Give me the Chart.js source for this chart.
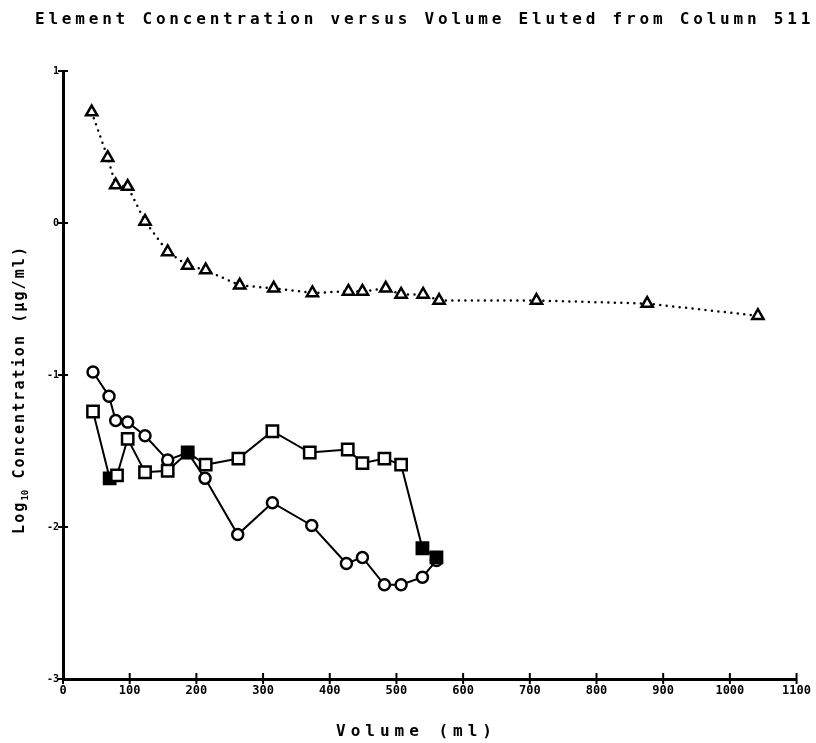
<!DOCTYPE html>
<html lang="en">
<head>
    <meta charset="UTF-8" />
    <title>Element Concentration versus Volume Eluted from Column 511</title>
    <style>
        body {
            margin: 0;
            background: #fff;
        }

        .wrap {
            position: relative;
            width: 816px;
            height: 743px;
            font-family: "DejaVu Sans Mono", monospace;
            color: #000;
        }

        .title {
            position: absolute;
            top: 9px;
            left: 35px;
            font-size: 16px;
            font-weight: bold;
            letter-spacing: 3.8px;
            white-space: nowrap;
        }

        .xtitle {
            position: absolute;
            top: 721px;
            left: 336px;
            font-size: 16px;
            font-weight: bold;
            letter-spacing: 5px;
            white-space: nowrap;
        }

        .ytitle {
            position: absolute;
            left: 10px;
            top: 534px;
            transform-origin: 0 0;
            transform: rotate(-90deg);
            font-size: 15px;
            font-weight: bold;
            letter-spacing: 2.1px;
            white-space: nowrap;
        }

        .ytitle sub {
            font-size: 9px;
            letter-spacing: 0;
        }

        canvas {
            position: absolute;
            left: 0;
            top: 0;
        }
    </style>
    <script src="https://cdn.jsdelivr.net/npm/chart.js"></script>
</head>
<body>
    <div class="wrap">
        <canvas id="elutionChart" width="816" height="743"></canvas>
        <div class="title">Element Concentration versus Volume Eluted from Column 511</div>
        <div class="ytitle">Log<sub>10</sub> Concentration  (µg/ml)</div>
        <div class="xtitle">Volume  (ml)</div>
    </div>

    <script>
        // volume (ml) and log10 concentration for each element
        const triVolume = [43, 67, 79, 97, 123, 157, 187, 214, 265, 316, 374, 428, 449, 484, 507, 540, 564, 710, 876, 1042];
        const triConc = [0.73, 0.43, 0.25, 0.24, 0.01, -0.19, -0.28, -0.31, -0.41, -0.43, -0.46, -0.45, -0.45, -0.43, -0.47, -0.47, -0.51, -0.51, -0.53, -0.61];

        const circVolume = [45, 69, 79, 97, 123, 157, 187, 213, 262, 314, 373, 425, 449, 482, 507, 539, 560];
        const circConc = [-0.98, -1.14, -1.30, -1.31, -1.40, -1.56, -1.51, -1.68, -2.05, -1.84, -1.99, -2.24, -2.20, -2.38, -2.38, -2.33, -2.22];

        const sqVolume = [45, 70, 81, 97, 123, 157, 187, 214, 263, 314, 370, 427, 449, 482, 507, 539, 560];
        const sqConc = [-1.24, -1.68, -1.66, -1.42, -1.64, -1.63, -1.51, -1.59, -1.55, -1.37, -1.51, -1.49, -1.58, -1.55, -1.59, -2.14, -2.20];
        // points printed as solid squares
        const sqFilled = [1, 6, 15, 16];

        const xTicks = { min: 0, max: 1100, step: 100 };
        const yTicks = { min: -3, max: 1, step: 1 };

        const toXY = (xs, ys) => xs.map((x, i) => ({ x: x, y: ys[i] }));

        // ticks that cross the axis line on both sides
        const crossTicks = {
            id: "crossTicks",
            afterDraw(chart) {
                const { ctx, chartArea, scales } = chart;
                ctx.save();
                ctx.strokeStyle = "#000";
                ctx.lineWidth = 2;
                scales.x.ticks.forEach((t) => {
                    const px = scales.x.getPixelForValue(t.value);
                    ctx.beginPath();
                    ctx.moveTo(px, chartArea.bottom - 6);
                    ctx.lineTo(px, chartArea.bottom + 5);
                    ctx.stroke();
                });
                scales.y.ticks.forEach((t) => {
                    const py = scales.y.getPixelForValue(t.value);
                    ctx.beginPath();
                    ctx.moveTo(chartArea.left - 5, py);
                    ctx.lineTo(chartArea.left + 5, py);
                    ctx.stroke();
                });
                ctx.restore();
            },
        };

        new Chart(document.getElementById("elutionChart").getContext("2d"), {
            type: "scatter",
            data: {
                datasets: [
                    {
                        label: "squares",
                        data: toXY(sqVolume, sqConc),
                        showLine: true,
                        borderColor: "#000",
                        borderWidth: 2,
                        pointStyle: "rect",
                        pointRadius: 8,
                        pointBorderWidth: 2.5,
                        pointBorderColor: "#000",
                        pointBackgroundColor: sqVolume.map((v, i) => (sqFilled.includes(i) ? "#000" : "#fff")),
                    },
                    {
                        label: "circles",
                        data: toXY(circVolume, circConc),
                        showLine: true,
                        borderColor: "#000",
                        borderWidth: 2,
                        pointStyle: "circle",
                        pointRadius: 5.5,
                        pointBorderWidth: 2.5,
                        pointBorderColor: "#000",
                        pointBackgroundColor: "#fff",
                    },
                    {
                        label: "triangles",
                        data: toXY(triVolume, triConc),
                        showLine: true,
                        borderColor: "#000",
                        borderWidth: 2.5,
                        borderDash: [0, 6.5],
                        borderCapStyle: "round",
                        pointStyle: "triangle",
                        pointRadius: 6.5,
                        pointBorderWidth: 2.5,
                        pointBorderColor: "#000",
                        pointBackgroundColor: "#fff",
                    },
                ],
            },
            options: {
                responsive: false,
                animation: false,
                layout: { padding: { top: 71, right: 18, left: 0, bottom: 0 } },
                plugins: {
                    legend: { display: false },
                    tooltip: { enabled: false },
                },
                elements: { line: { tension: 0 } },
                scales: {
                    x: {
                        type: "linear",
                        min: xTicks.min,
                        max: xTicks.max,
                        afterFit: (s) => { s.height = 64; },
                        ticks: {
                            stepSize: xTicks.step,
                            color: "#000",
                            padding: 5,
                            maxRotation: 0,
                            callback: (v) => String(v),
                            font: { family: "DejaVu Sans Mono", size: 12, weight: "bold" },
                        },
                        grid: { drawOnChartArea: false, drawTicks: false },
                        border: { color: "#000", width: 3 },
                    },
                    y: {
                        type: "linear",
                        min: yTicks.min,
                        max: yTicks.max,
                        afterFit: (s) => { s.width = 63; },
                        ticks: {
                            stepSize: yTicks.step,
                            color: "#000",
                            padding: 4,
                            callback: (v) => String(v),
                            font: { family: "DejaVu Sans Mono", size: 10, weight: "bold" },
                        },
                        grid: { drawOnChartArea: false, drawTicks: false },
                        border: { color: "#000", width: 3 },
                    },
                },
            },
            plugins: [crossTicks],
        });
    </script>
</body>
</html>
